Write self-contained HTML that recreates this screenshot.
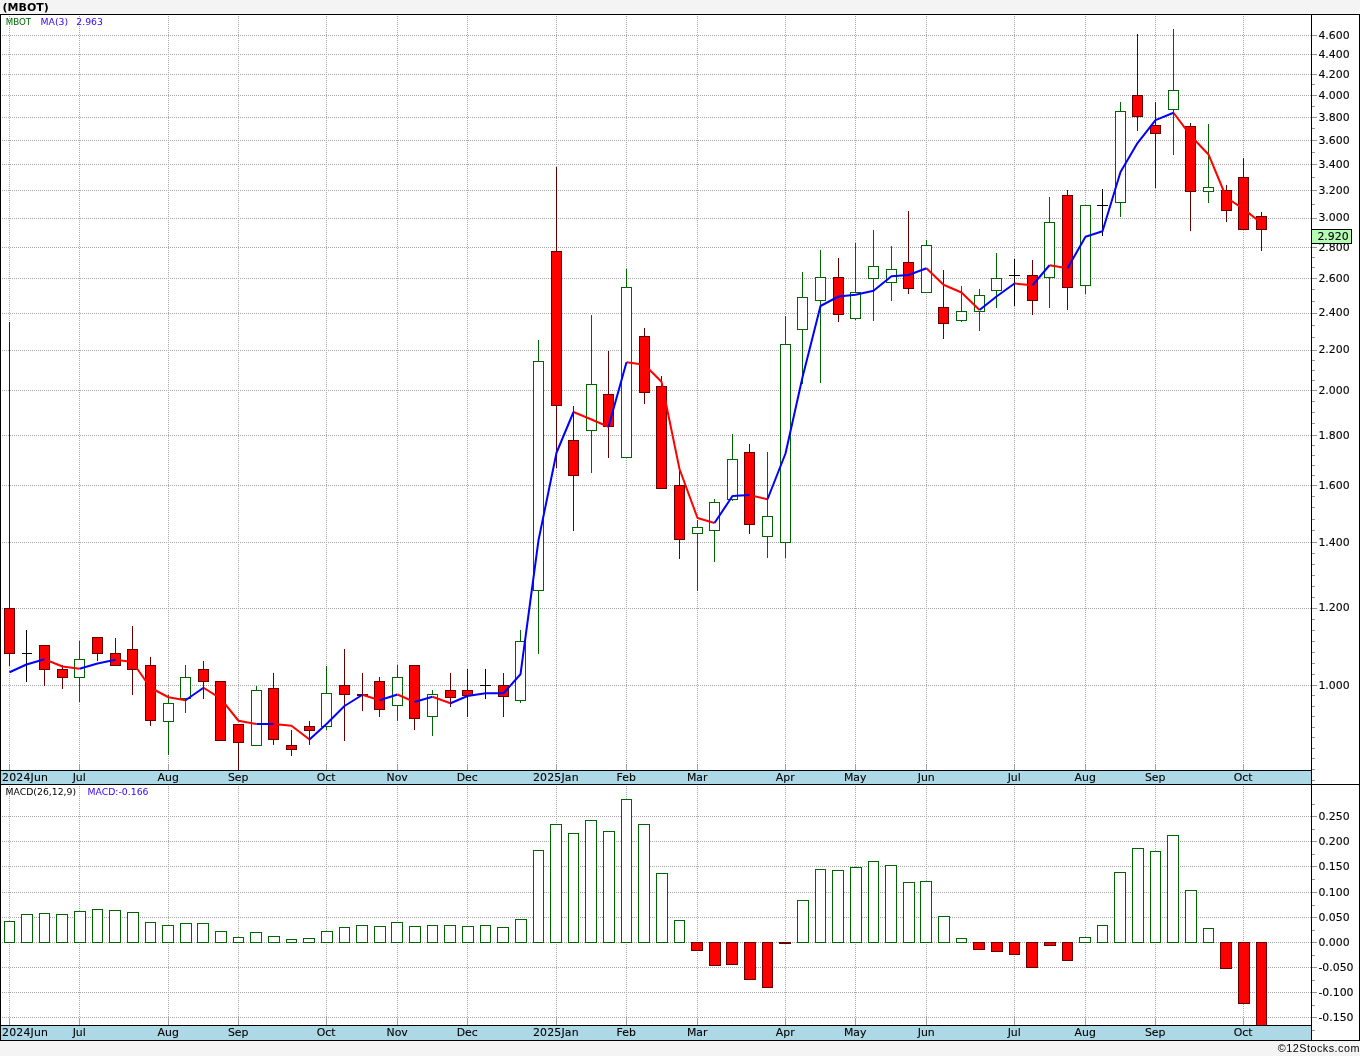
<!DOCTYPE html>
<html><head><meta charset="utf-8"><title>(MBOT)</title>
<style>html,body{margin:0;padding:0;background:#f4f4f4}body{width:1360px;height:1056px;overflow:hidden}</style></head>
<body>
<svg width="1360" height="1056" viewBox="0 0 1360 1056" style="display:block">
<rect x="0" y="0" width="1360" height="1056" fill="#f4f4f4"/>
<rect x="0" y="14" width="1360" height="1027" fill="#ffffff"/>
<path d="M2 35.5H1311M2 54.5H1311M2 74.5H1311M2 95.5H1311M2 117.5H1311M2 140.5H1311M2 164.5H1311M2 190.5H1311M2 218.5H1311M2 247.5H1311M2 278.5H1311M2 313.5H1311M2 350.5H1311M2 390.5H1311M2 435.5H1311M2 485.5H1311M2 542.5H1311M2 608.5H1311M2 685.5H1311M2 816.5H1311M2 841.5H1311M2 866.5H1311M2 892.5H1311M2 917.5H1311M2 942.5H1311M2 967.5H1311M2 992.5H1311M2 1017.5H1311M9.5 16V764M9.5 786V1019M79.5 16V764M79.5 786V1019M168.5 16V764M168.5 786V1019M238.5 16V764M238.5 786V1019M326.5 16V764M326.5 786V1019M397.5 16V764M397.5 786V1019M467.5 16V764M467.5 786V1019M556.5 16V764M556.5 786V1019M626.5 16V764M626.5 786V1019M697.5 16V764M697.5 786V1019M785.5 16V764M785.5 786V1019M855.5 16V764M855.5 786V1019M926.5 16V764M926.5 786V1019M1014.5 16V764M1014.5 786V1019M1085.5 16V764M1085.5 786V1019M1155.5 16V764M1155.5 786V1019M1243.5 16V764M1243.5 786V1019" stroke="#a6a6a6" stroke-width="1" stroke-dasharray="1 1" fill="none" shape-rendering="crispEdges"/>
<path d="M9.5 764V770M9.5 1019V1025M79.5 764V770M79.5 1019V1025M168.5 764V770M168.5 1019V1025M238.5 764V770M238.5 1019V1025M326.5 764V770M326.5 1019V1025M397.5 764V770M397.5 1019V1025M467.5 764V770M467.5 1019V1025M556.5 764V770M556.5 1019V1025M626.5 764V770M626.5 1019V1025M697.5 764V770M697.5 1019V1025M785.5 764V770M785.5 1019V1025M855.5 764V770M855.5 1019V1025M926.5 764V770M926.5 1019V1025M1014.5 764V770M1014.5 1019V1025M1085.5 764V770M1085.5 1019V1025M1155.5 764V770M1155.5 1019V1025M1243.5 764V770M1243.5 1019V1025" stroke="#a0a0a0" stroke-width="1" fill="none" shape-rendering="crispEdges"/>
<g shape-rendering="crispEdges">
<path d="M9.5 322V608M9.5 654V666" stroke="#640000" stroke-width="1" fill="none"/><rect x="4.5" y="608.5" width="10" height="45" fill="#ff0000" stroke="#640000" stroke-width="1"/>
<path d="M26.5 630V682M22.0 653.5H32.0" stroke="#000" stroke-width="1" fill="none"/>
<path d="M44.5 670V686" stroke="#640000" stroke-width="1" fill="none"/><rect x="39.5" y="645.5" width="10" height="24" fill="#ff0000" stroke="#640000" stroke-width="1"/>
<path d="M62.5 665V669M62.5 678V689" stroke="#640000" stroke-width="1" fill="none"/><rect x="57.5" y="669.5" width="10" height="8" fill="#ff0000" stroke="#640000" stroke-width="1"/>
<path d="M79.5 641V659M79.5 678V702" stroke="#006400" stroke-width="1" fill="none"/><rect x="74.5" y="659.5" width="10" height="18" fill="#ffffff" stroke="#006400" stroke-width="1"/>
<path d="M97.5 654V661" stroke="#640000" stroke-width="1" fill="none"/><rect x="92.5" y="637.5" width="10" height="16" fill="#ff0000" stroke="#640000" stroke-width="1"/>
<path d="M115.5 638V653" stroke="#640000" stroke-width="1" fill="none"/><rect x="110.5" y="653.5" width="10" height="12" fill="#ff0000" stroke="#640000" stroke-width="1"/>
<path d="M132.5 626V649M132.5 670V695" stroke="#640000" stroke-width="1" fill="none"/><rect x="127.5" y="649.5" width="10" height="20" fill="#ff0000" stroke="#640000" stroke-width="1"/>
<path d="M150.5 657V665M150.5 721V726" stroke="#640000" stroke-width="1" fill="none"/><rect x="145.5" y="665.5" width="10" height="55" fill="#ff0000" stroke="#640000" stroke-width="1"/>
<path d="M168.5 695V703M168.5 722V755" stroke="#006400" stroke-width="1" fill="none"/><rect x="163.5" y="703.5" width="10" height="18" fill="#ffffff" stroke="#006400" stroke-width="1"/>
<path d="M185.5 665V677M185.5 699V713" stroke="#006400" stroke-width="1" fill="none"/><rect x="180.5" y="677.5" width="10" height="21" fill="#ffffff" stroke="#006400" stroke-width="1"/>
<path d="M203.5 661V669M203.5 682V699" stroke="#640000" stroke-width="1" fill="none"/><rect x="198.5" y="669.5" width="10" height="12" fill="#ff0000" stroke="#640000" stroke-width="1"/>
<rect x="215.5" y="681.5" width="10" height="59" fill="#ff0000" stroke="#640000" stroke-width="1"/>
<path d="M238.5 743V770" stroke="#640000" stroke-width="1" fill="none"/><rect x="233.5" y="724.5" width="10" height="18" fill="#ff0000" stroke="#640000" stroke-width="1"/>
<path d="M256.5 686V690" stroke="#006400" stroke-width="1" fill="none"/><rect x="251.5" y="690.5" width="10" height="55" fill="#ffffff" stroke="#006400" stroke-width="1"/>
<path d="M273.5 673V688M273.5 740V745" stroke="#640000" stroke-width="1" fill="none"/><rect x="268.5" y="688.5" width="10" height="51" fill="#ff0000" stroke="#640000" stroke-width="1"/>
<path d="M291.5 730V745M291.5 750V756" stroke="#640000" stroke-width="1" fill="none"/><rect x="286.5" y="745.5" width="10" height="4" fill="#ff0000" stroke="#640000" stroke-width="1"/>
<path d="M309.5 721V726M309.5 731V745" stroke="#640000" stroke-width="1" fill="none"/><rect x="304.5" y="726.5" width="10" height="4" fill="#ff0000" stroke="#640000" stroke-width="1"/>
<path d="M326.5 666V693M326.5 727V730" stroke="#006400" stroke-width="1" fill="none"/><rect x="321.5" y="693.5" width="10" height="33" fill="#ffffff" stroke="#006400" stroke-width="1"/>
<path d="M344.5 649V685M344.5 695V741" stroke="#640000" stroke-width="1" fill="none"/><rect x="339.5" y="685.5" width="10" height="9" fill="#ff0000" stroke="#640000" stroke-width="1"/>
<path d="M362.5 673V694M362.5 696V711" stroke="#640000" stroke-width="1" fill="none"/><rect x="357.5" y="694.5" width="10" height="1" fill="#ff0000" stroke="#640000" stroke-width="1"/>
<path d="M379.5 677V681M379.5 710V717" stroke="#640000" stroke-width="1" fill="none"/><rect x="374.5" y="681.5" width="10" height="28" fill="#ff0000" stroke="#640000" stroke-width="1"/>
<path d="M397.5 665V677M397.5 706V721" stroke="#006400" stroke-width="1" fill="none"/><rect x="392.5" y="677.5" width="10" height="28" fill="#ffffff" stroke="#006400" stroke-width="1"/>
<path d="M414.5 719V730" stroke="#640000" stroke-width="1" fill="none"/><rect x="409.5" y="665.5" width="10" height="53" fill="#ff0000" stroke="#640000" stroke-width="1"/>
<path d="M432.5 690V694M432.5 717V736" stroke="#006400" stroke-width="1" fill="none"/><rect x="427.5" y="694.5" width="10" height="22" fill="#ffffff" stroke="#006400" stroke-width="1"/>
<path d="M450.5 673V690M450.5 698V707" stroke="#640000" stroke-width="1" fill="none"/><rect x="445.5" y="690.5" width="10" height="7" fill="#ff0000" stroke="#640000" stroke-width="1"/>
<path d="M467.5 669V690M467.5 696V717" stroke="#640000" stroke-width="1" fill="none"/><rect x="462.5" y="690.5" width="10" height="5" fill="#ff0000" stroke="#640000" stroke-width="1"/>
<path d="M485.5 669V699M480.0 685.5H491.0" stroke="#000" stroke-width="1" fill="none"/>
<path d="M503.5 673V685M503.5 697V717" stroke="#640000" stroke-width="1" fill="none"/><rect x="498.5" y="685.5" width="10" height="11" fill="#ff0000" stroke="#640000" stroke-width="1"/>
<path d="M520.5 630V641M520.5 701V703" stroke="#006400" stroke-width="1" fill="none"/><rect x="515.5" y="641.5" width="10" height="59" fill="#ffffff" stroke="#006400" stroke-width="1"/>
<path d="M538.5 340V361M538.5 591V654" stroke="#006400" stroke-width="1" fill="none"/><rect x="533.5" y="361.5" width="10" height="229" fill="#ffffff" stroke="#006400" stroke-width="1"/>
<path d="M556.5 167V251M556.5 406V468" stroke="#640000" stroke-width="1" fill="none"/><rect x="551.5" y="251.5" width="10" height="154" fill="#ff0000" stroke="#640000" stroke-width="1"/>
<path d="M573.5 406V440M573.5 476V531" stroke="#640000" stroke-width="1" fill="none"/><rect x="568.5" y="440.5" width="10" height="35" fill="#ff0000" stroke="#640000" stroke-width="1"/>
<path d="M591.5 315V384M591.5 431V473" stroke="#006400" stroke-width="1" fill="none"/><rect x="586.5" y="384.5" width="10" height="46" fill="#ffffff" stroke="#006400" stroke-width="1"/>
<path d="M608.5 351V394M608.5 427V458" stroke="#640000" stroke-width="1" fill="none"/><rect x="603.5" y="394.5" width="10" height="32" fill="#ff0000" stroke="#640000" stroke-width="1"/>
<path d="M626.5 269V287" stroke="#006400" stroke-width="1" fill="none"/><rect x="621.5" y="287.5" width="10" height="170" fill="#ffffff" stroke="#006400" stroke-width="1"/>
<path d="M644.5 328V336M644.5 393V404" stroke="#640000" stroke-width="1" fill="none"/><rect x="639.5" y="336.5" width="10" height="56" fill="#ff0000" stroke="#640000" stroke-width="1"/>
<path d="M661.5 376V386" stroke="#640000" stroke-width="1" fill="none"/><rect x="656.5" y="386.5" width="10" height="102" fill="#ff0000" stroke="#640000" stroke-width="1"/>
<path d="M679.5 470V485M679.5 540V559" stroke="#640000" stroke-width="1" fill="none"/><rect x="674.5" y="485.5" width="10" height="54" fill="#ff0000" stroke="#640000" stroke-width="1"/>
<path d="M697.5 520V527M697.5 534V591" stroke="#006400" stroke-width="1" fill="none"/><rect x="692.5" y="527.5" width="10" height="6" fill="#ffffff" stroke="#006400" stroke-width="1"/>
<path d="M714.5 499V502M714.5 531V562" stroke="#006400" stroke-width="1" fill="none"/><rect x="709.5" y="502.5" width="10" height="28" fill="#ffffff" stroke="#006400" stroke-width="1"/>
<path d="M732.5 434V459M732.5 500V501" stroke="#006400" stroke-width="1" fill="none"/><rect x="727.5" y="459.5" width="10" height="40" fill="#ffffff" stroke="#006400" stroke-width="1"/>
<path d="M749.5 444V452M749.5 525V534" stroke="#640000" stroke-width="1" fill="none"/><rect x="744.5" y="452.5" width="10" height="72" fill="#ff0000" stroke="#640000" stroke-width="1"/>
<path d="M767.5 452V516M767.5 537V558" stroke="#006400" stroke-width="1" fill="none"/><rect x="762.5" y="516.5" width="10" height="20" fill="#ffffff" stroke="#006400" stroke-width="1"/>
<path d="M785.5 316V344M785.5 543V558" stroke="#006400" stroke-width="1" fill="none"/><rect x="780.5" y="344.5" width="10" height="198" fill="#ffffff" stroke="#006400" stroke-width="1"/>
<path d="M802.5 272V297M802.5 330V384" stroke="#006400" stroke-width="1" fill="none"/><rect x="797.5" y="297.5" width="10" height="32" fill="#ffffff" stroke="#006400" stroke-width="1"/>
<path d="M820.5 250V277M820.5 301V383" stroke="#006400" stroke-width="1" fill="none"/><rect x="815.5" y="277.5" width="10" height="23" fill="#ffffff" stroke="#006400" stroke-width="1"/>
<path d="M838.5 258V277M838.5 315V322" stroke="#640000" stroke-width="1" fill="none"/><rect x="833.5" y="277.5" width="10" height="37" fill="#ff0000" stroke="#640000" stroke-width="1"/>
<path d="M855.5 243V292M855.5 319V320" stroke="#006400" stroke-width="1" fill="none"/><rect x="850.5" y="292.5" width="10" height="26" fill="#ffffff" stroke="#006400" stroke-width="1"/>
<path d="M873.5 230V266M873.5 279V321" stroke="#006400" stroke-width="1" fill="none"/><rect x="868.5" y="266.5" width="10" height="12" fill="#ffffff" stroke="#006400" stroke-width="1"/>
<path d="M891.5 246V269M891.5 283V301" stroke="#006400" stroke-width="1" fill="none"/><rect x="886.5" y="269.5" width="10" height="13" fill="#ffffff" stroke="#006400" stroke-width="1"/>
<path d="M908.5 211V262M908.5 289V294" stroke="#640000" stroke-width="1" fill="none"/><rect x="903.5" y="262.5" width="10" height="26" fill="#ff0000" stroke="#640000" stroke-width="1"/>
<path d="M926.5 240V245" stroke="#006400" stroke-width="1" fill="none"/><rect x="921.5" y="245.5" width="10" height="47" fill="#ffffff" stroke="#006400" stroke-width="1"/>
<path d="M943.5 270V307M943.5 324V339" stroke="#640000" stroke-width="1" fill="none"/><rect x="938.5" y="307.5" width="10" height="16" fill="#ff0000" stroke="#640000" stroke-width="1"/>
<path d="M961.5 286V311M961.5 321V322" stroke="#006400" stroke-width="1" fill="none"/><rect x="956.5" y="311.5" width="10" height="9" fill="#ffffff" stroke="#006400" stroke-width="1"/>
<path d="M979.5 289V295M979.5 312V331" stroke="#006400" stroke-width="1" fill="none"/><rect x="974.5" y="295.5" width="10" height="16" fill="#ffffff" stroke="#006400" stroke-width="1"/>
<path d="M996.5 253V278M996.5 291V308" stroke="#006400" stroke-width="1" fill="none"/><rect x="991.5" y="278.5" width="10" height="12" fill="#ffffff" stroke="#006400" stroke-width="1"/>
<path d="M1014.5 259V306M1009.0 275.5H1020.0" stroke="#000" stroke-width="1" fill="none"/>
<path d="M1032.5 260V275M1032.5 301V315" stroke="#640000" stroke-width="1" fill="none"/><rect x="1027.5" y="275.5" width="10" height="25" fill="#ff0000" stroke="#640000" stroke-width="1"/>
<path d="M1049.5 197V222M1049.5 278V308" stroke="#006400" stroke-width="1" fill="none"/><rect x="1044.5" y="222.5" width="10" height="55" fill="#ffffff" stroke="#006400" stroke-width="1"/>
<path d="M1067.5 190V195M1067.5 288V310" stroke="#640000" stroke-width="1" fill="none"/><rect x="1062.5" y="195.5" width="10" height="92" fill="#ff0000" stroke="#640000" stroke-width="1"/>
<path d="M1085.5 286V294" stroke="#006400" stroke-width="1" fill="none"/><rect x="1080.5" y="205.5" width="10" height="80" fill="#ffffff" stroke="#006400" stroke-width="1"/>
<path d="M1102.5 189V236M1097.0 205.5H1108.0" stroke="#000" stroke-width="1" fill="none"/>
<path d="M1120.5 102V111M1120.5 203V217" stroke="#006400" stroke-width="1" fill="none"/><rect x="1115.5" y="111.5" width="10" height="91" fill="#ffffff" stroke="#006400" stroke-width="1"/>
<path d="M1137.5 34V95M1137.5 117V131" stroke="#640000" stroke-width="1" fill="none"/><rect x="1132.5" y="95.5" width="10" height="21" fill="#ff0000" stroke="#640000" stroke-width="1"/>
<path d="M1155.5 102V125M1155.5 134V188" stroke="#640000" stroke-width="1" fill="none"/><rect x="1150.5" y="125.5" width="10" height="8" fill="#ff0000" stroke="#640000" stroke-width="1"/>
<path d="M1173.5 29V90M1173.5 110V155" stroke="#006400" stroke-width="1" fill="none"/><rect x="1168.5" y="90.5" width="10" height="19" fill="#ffffff" stroke="#006400" stroke-width="1"/>
<path d="M1190.5 123V126M1190.5 192V231" stroke="#640000" stroke-width="1" fill="none"/><rect x="1185.5" y="126.5" width="10" height="65" fill="#ff0000" stroke="#640000" stroke-width="1"/>
<path d="M1208.5 124V187M1208.5 192V203" stroke="#006400" stroke-width="1" fill="none"/><rect x="1203.5" y="187.5" width="10" height="4" fill="#ffffff" stroke="#006400" stroke-width="1"/>
<path d="M1226.5 185V190M1226.5 211V222" stroke="#640000" stroke-width="1" fill="none"/><rect x="1221.5" y="190.5" width="10" height="20" fill="#ff0000" stroke="#640000" stroke-width="1"/>
<path d="M1243.5 158V177" stroke="#640000" stroke-width="1" fill="none"/><rect x="1238.5" y="177.5" width="10" height="52" fill="#ff0000" stroke="#640000" stroke-width="1"/>
<path d="M1261.5 212V216M1261.5 230V251" stroke="#640000" stroke-width="1" fill="none"/><rect x="1256.5" y="216.5" width="10" height="13" fill="#ff0000" stroke="#640000" stroke-width="1"/>
</g>
<g stroke-width="2" fill="none" stroke-linecap="butt" stroke-linejoin="round">
<path d="M44.5 659.25L62.5 666.50L79.5 668.75" stroke="#ff0000"/>
<path d="M115.5 659.75L132.5 662.00L150.5 687.75L168.5 697.25L185.5 700.25" stroke="#ff0000"/>
<path d="M203.5 687.75L220.5 698.45L238.5 720.75L256.5 724.00" stroke="#ff0000"/>
<path d="M273.5 724.00L291.5 725.75L309.5 739.50" stroke="#ff0000"/>
<path d="M362.5 694.75L379.5 700.25" stroke="#ff0000"/>
<path d="M397.5 694.50L414.5 702.00" stroke="#ff0000"/>
<path d="M432.5 696.75L450.5 703.25" stroke="#ff0000"/>
<path d="M573.5 412.00L591.5 419.50L608.5 426.75" stroke="#ff0000"/>
<path d="M626.5 362.25L644.5 364.75L661.5 381.75L679.5 469.00L697.5 518.00L714.5 523.00" stroke="#ff0000"/>
<path d="M749.5 495.00L767.5 499.25" stroke="#ff0000"/>
<path d="M926.5 268.25L943.5 284.75L961.5 292.50L979.5 310.00" stroke="#ff0000"/>
<path d="M1014.5 283.50L1032.5 285.25" stroke="#ff0000"/>
<path d="M1049.5 265.25L1067.5 268.25" stroke="#ff0000"/>
<path d="M1173.5 112.75L1190.5 135.45L1208.5 154.45L1226.5 197.75L1243.5 208.85L1261.5 223.25" stroke="#ff0000"/>
<path d="M9.5 672.25L26.5 664.50L44.5 659.25" stroke="#0000ff"/>
<path d="M79.5 668.75L97.5 663.50L115.5 659.75" stroke="#0000ff"/>
<path d="M185.5 700.25L203.5 687.75" stroke="#0000ff"/>
<path d="M256.5 724.00L273.5 724.00" stroke="#0000ff"/>
<path d="M309.5 739.50L326.5 724.00L344.5 706.00L362.5 694.75" stroke="#0000ff"/>
<path d="M379.5 700.25L397.5 694.50" stroke="#0000ff"/>
<path d="M414.5 702.00L432.5 696.75" stroke="#0000ff"/>
<path d="M450.5 703.25L467.5 696.00L485.5 693.25L503.5 693.25L520.5 674.25L538.5 540.25L556.5 452.75L573.5 412.00" stroke="#0000ff"/>
<path d="M608.5 426.75L626.5 362.25" stroke="#0000ff"/>
<path d="M714.5 523.00L732.5 496.00L749.5 495.00" stroke="#0000ff"/>
<path d="M767.5 499.25L785.5 453.50L802.5 377.25L820.5 306.00L838.5 296.50L855.5 294.75L873.5 290.75L891.5 276.25L908.5 275.00L926.5 268.25" stroke="#0000ff"/>
<path d="M979.5 310.00L996.5 296.50L1014.5 283.50" stroke="#0000ff"/>
<path d="M1032.5 285.25L1049.5 265.25" stroke="#0000ff"/>
<path d="M1067.5 268.25L1085.5 236.75L1102.5 231.25L1120.5 171.95L1137.5 143.05L1155.5 120.15L1173.5 112.75" stroke="#0000ff"/>
</g>
<g shape-rendering="crispEdges">
<rect x="4.5" y="921.5" width="10" height="21" fill="#ffffff" stroke="#006400" stroke-width="1"/>
<rect x="21.5" y="914.5" width="11" height="28" fill="#ffffff" stroke="#006400" stroke-width="1"/>
<rect x="39.5" y="913.5" width="10" height="29" fill="#ffffff" stroke="#006400" stroke-width="1"/>
<rect x="56.5" y="914.5" width="11" height="28" fill="#ffffff" stroke="#006400" stroke-width="1"/>
<rect x="74.5" y="911.5" width="11" height="31" fill="#ffffff" stroke="#006400" stroke-width="1"/>
<rect x="92.5" y="909.5" width="10" height="33" fill="#ffffff" stroke="#006400" stroke-width="1"/>
<rect x="109.5" y="910.5" width="11" height="32" fill="#ffffff" stroke="#006400" stroke-width="1"/>
<rect x="127.5" y="912.5" width="11" height="30" fill="#ffffff" stroke="#006400" stroke-width="1"/>
<rect x="145.5" y="922.5" width="10" height="20" fill="#ffffff" stroke="#006400" stroke-width="1"/>
<rect x="162.5" y="925.5" width="11" height="17" fill="#ffffff" stroke="#006400" stroke-width="1"/>
<rect x="180.5" y="923.5" width="11" height="19" fill="#ffffff" stroke="#006400" stroke-width="1"/>
<rect x="197.5" y="923.5" width="11" height="19" fill="#ffffff" stroke="#006400" stroke-width="1"/>
<rect x="215.5" y="931.5" width="11" height="11" fill="#ffffff" stroke="#006400" stroke-width="1"/>
<rect x="233.5" y="937.5" width="10" height="5" fill="#ffffff" stroke="#006400" stroke-width="1"/>
<rect x="250.5" y="932.5" width="11" height="10" fill="#ffffff" stroke="#006400" stroke-width="1"/>
<rect x="268.5" y="936.5" width="11" height="6" fill="#ffffff" stroke="#006400" stroke-width="1"/>
<rect x="286.5" y="939.5" width="10" height="3" fill="#ffffff" stroke="#006400" stroke-width="1"/>
<rect x="303.5" y="938.5" width="11" height="4" fill="#ffffff" stroke="#006400" stroke-width="1"/>
<rect x="321.5" y="931.5" width="11" height="11" fill="#ffffff" stroke="#006400" stroke-width="1"/>
<rect x="339.5" y="927.5" width="10" height="15" fill="#ffffff" stroke="#006400" stroke-width="1"/>
<rect x="356.5" y="925.5" width="11" height="17" fill="#ffffff" stroke="#006400" stroke-width="1"/>
<rect x="374.5" y="926.5" width="11" height="16" fill="#ffffff" stroke="#006400" stroke-width="1"/>
<rect x="391.5" y="922.5" width="11" height="20" fill="#ffffff" stroke="#006400" stroke-width="1"/>
<rect x="409.5" y="926.5" width="11" height="16" fill="#ffffff" stroke="#006400" stroke-width="1"/>
<rect x="427.5" y="925.5" width="10" height="17" fill="#ffffff" stroke="#006400" stroke-width="1"/>
<rect x="444.5" y="925.5" width="11" height="17" fill="#ffffff" stroke="#006400" stroke-width="1"/>
<rect x="462.5" y="926.5" width="11" height="16" fill="#ffffff" stroke="#006400" stroke-width="1"/>
<rect x="480.5" y="925.5" width="10" height="17" fill="#ffffff" stroke="#006400" stroke-width="1"/>
<rect x="497.5" y="927.5" width="11" height="15" fill="#ffffff" stroke="#006400" stroke-width="1"/>
<rect x="515.5" y="919.5" width="11" height="23" fill="#ffffff" stroke="#006400" stroke-width="1"/>
<rect x="533.5" y="850.5" width="10" height="92" fill="#ffffff" stroke="#006400" stroke-width="1"/>
<rect x="550.5" y="824.5" width="11" height="118" fill="#ffffff" stroke="#006400" stroke-width="1"/>
<rect x="568.5" y="833.5" width="10" height="109" fill="#ffffff" stroke="#006400" stroke-width="1"/>
<rect x="585.5" y="820.5" width="11" height="122" fill="#ffffff" stroke="#006400" stroke-width="1"/>
<rect x="603.5" y="831.5" width="11" height="111" fill="#ffffff" stroke="#006400" stroke-width="1"/>
<rect x="621.5" y="799.5" width="10" height="143" fill="#ffffff" stroke="#006400" stroke-width="1"/>
<rect x="638.5" y="824.5" width="11" height="118" fill="#ffffff" stroke="#006400" stroke-width="1"/>
<rect x="656.5" y="873.5" width="11" height="69" fill="#ffffff" stroke="#006400" stroke-width="1"/>
<rect x="674.5" y="920.5" width="10" height="22" fill="#ffffff" stroke="#006400" stroke-width="1"/>
<rect x="691.5" y="942.5" width="11" height="8" fill="#ff0000" stroke="#640000" stroke-width="1"/>
<rect x="709.5" y="942.5" width="11" height="23" fill="#ff0000" stroke="#640000" stroke-width="1"/>
<rect x="726.5" y="942.5" width="11" height="22" fill="#ff0000" stroke="#640000" stroke-width="1"/>
<rect x="744.5" y="942.5" width="11" height="37" fill="#ff0000" stroke="#640000" stroke-width="1"/>
<rect x="762.5" y="942.5" width="10" height="45" fill="#ff0000" stroke="#640000" stroke-width="1"/>
<rect x="779.5" y="942.5" width="11" height="1" fill="#ff0000" stroke="#640000" stroke-width="1"/>
<rect x="797.5" y="900.5" width="11" height="42" fill="#ffffff" stroke="#006400" stroke-width="1"/>
<rect x="815.5" y="869.5" width="10" height="73" fill="#ffffff" stroke="#006400" stroke-width="1"/>
<rect x="832.5" y="870.5" width="11" height="72" fill="#ffffff" stroke="#006400" stroke-width="1"/>
<rect x="850.5" y="867.5" width="11" height="75" fill="#ffffff" stroke="#006400" stroke-width="1"/>
<rect x="868.5" y="861.5" width="10" height="81" fill="#ffffff" stroke="#006400" stroke-width="1"/>
<rect x="885.5" y="865.5" width="11" height="77" fill="#ffffff" stroke="#006400" stroke-width="1"/>
<rect x="903.5" y="882.5" width="11" height="60" fill="#ffffff" stroke="#006400" stroke-width="1"/>
<rect x="920.5" y="881.5" width="11" height="61" fill="#ffffff" stroke="#006400" stroke-width="1"/>
<rect x="938.5" y="916.5" width="11" height="26" fill="#ffffff" stroke="#006400" stroke-width="1"/>
<rect x="956.5" y="938.5" width="10" height="4" fill="#ffffff" stroke="#006400" stroke-width="1"/>
<rect x="973.5" y="942.5" width="11" height="7" fill="#ff0000" stroke="#640000" stroke-width="1"/>
<rect x="991.5" y="942.5" width="11" height="9" fill="#ff0000" stroke="#640000" stroke-width="1"/>
<rect x="1009.5" y="942.5" width="10" height="12" fill="#ff0000" stroke="#640000" stroke-width="1"/>
<rect x="1026.5" y="942.5" width="11" height="25" fill="#ff0000" stroke="#640000" stroke-width="1"/>
<rect x="1044.5" y="942.5" width="11" height="3" fill="#ff0000" stroke="#640000" stroke-width="1"/>
<rect x="1062.5" y="942.5" width="10" height="18" fill="#ff0000" stroke="#640000" stroke-width="1"/>
<rect x="1079.5" y="937.5" width="11" height="5" fill="#ffffff" stroke="#006400" stroke-width="1"/>
<rect x="1097.5" y="925.5" width="10" height="17" fill="#ffffff" stroke="#006400" stroke-width="1"/>
<rect x="1114.5" y="872.5" width="11" height="70" fill="#ffffff" stroke="#006400" stroke-width="1"/>
<rect x="1132.5" y="848.5" width="11" height="94" fill="#ffffff" stroke="#006400" stroke-width="1"/>
<rect x="1150.5" y="851.5" width="10" height="91" fill="#ffffff" stroke="#006400" stroke-width="1"/>
<rect x="1167.5" y="835.5" width="11" height="107" fill="#ffffff" stroke="#006400" stroke-width="1"/>
<rect x="1185.5" y="890.5" width="11" height="52" fill="#ffffff" stroke="#006400" stroke-width="1"/>
<rect x="1203.5" y="928.5" width="10" height="14" fill="#ffffff" stroke="#006400" stroke-width="1"/>
<rect x="1220.5" y="942.5" width="11" height="26" fill="#ff0000" stroke="#640000" stroke-width="1"/>
<rect x="1238.5" y="942.5" width="11" height="61" fill="#ff0000" stroke="#640000" stroke-width="1"/>
<rect x="1256.5" y="942.5" width="10" height="83" fill="#ff0000" stroke="#640000" stroke-width="1"/>
</g>
<g shape-rendering="crispEdges">
<rect x="1" y="770" width="1310" height="15" fill="#add8e6"/>
<rect x="1" y="1025" width="1310" height="16" fill="#add8e6"/>
<path d="M0 14.5H1360M0 770.5H1311M0 784.5H1360M0 1025.5H1311M0 1040.5H1360M0.5 14V1041M1311.5 14V1041M1359.5 14V1041" stroke="#000" stroke-width="1" fill="none"/>
<path d="M1312 35.5H1317M1312 54.5H1317M1312 74.5H1317M1312 95.5H1317M1312 117.5H1317M1312 140.5H1317M1312 164.5H1317M1312 190.5H1317M1312 218.5H1317M1312 247.5H1317M1312 278.5H1317M1312 313.5H1317M1312 350.5H1317M1312 390.5H1317M1312 435.5H1317M1312 485.5H1317M1312 542.5H1317M1312 608.5H1317M1312 685.5H1317M1312 84.5H1315M1312 106.5H1315M1312 128.5H1315M1312 152.5H1315M1312 177.5H1315M1312 204.5H1315M1312 232.5H1315M1312 257.5H1315M1312 267.5H1315M1312 289.5H1315M1312 301.5H1315M1312 325.5H1315M1312 337.5H1315M1312 360.5H1315M1312 370.5H1315M1312 380.5H1315M1312 401.5H1315M1312 412.5H1315M1312 423.5H1315M1312 445.5H1315M1312 455.5H1315M1312 465.5H1315M1312 475.5H1315M1312 496.5H1315M1312 507.5H1315M1312 519.5H1315M1312 530.5H1315M1312 553.5H1315M1312 564.5H1315M1312 575.5H1315M1312 586.5H1315M1312 597.5H1315M1312 619.5H1315M1312 630.5H1315M1312 641.5H1315M1312 652.5H1315M1312 663.5H1315M1312 674.5H1315M1312 695.5H1315M1312 706.5H1315M1312 716.5H1315M1312 727.5H1315M1312 737.5H1315M1312 748.5H1315M1312 758.5H1315M1312 769.5H1315M1312 780.5H1315M1312 816.5H1317M1312 841.5H1317M1312 866.5H1317M1312 892.5H1317M1312 917.5H1317M1312 942.5H1317M1312 967.5H1317M1312 992.5H1317M1312 1017.5H1317M1312 829.5H1315M1312 854.5H1315M1312 879.5H1315M1312 905.5H1315M1312 930.5H1315M1312 955.5H1315M1312 980.5H1315M1312 1005.5H1315M1312 804.5H1315M1312 1030.5H1315" stroke="#969696" stroke-width="1" fill="none"/>
<rect x="1311.5" y="229.5" width="40" height="14" fill="#b4fbb4" stroke="#000" stroke-width="1"/>
</g>
<g font-family="DejaVu Sans, Verdana, Liberation Sans, sans-serif" font-size="10.9px" fill="#000" stroke="#000" stroke-width="0.1">
<text x="1318.4" y="39">4.600</text>
<text x="1318.4" y="58">4.400</text>
<text x="1318.4" y="78">4.200</text>
<text x="1318.4" y="99">4.000</text>
<text x="1318.4" y="121">3.800</text>
<text x="1318.4" y="144">3.600</text>
<text x="1318.4" y="168">3.400</text>
<text x="1318.4" y="194">3.200</text>
<text x="1318.4" y="221">3.000</text>
<text x="1318.4" y="251">2.800</text>
<text x="1318.4" y="282">2.600</text>
<text x="1318.4" y="316">2.400</text>
<text x="1318.4" y="353">2.200</text>
<text x="1318.4" y="394">2.000</text>
<text x="1318.4" y="439">1.800</text>
<text x="1318.4" y="489">1.600</text>
<text x="1318.4" y="546">1.400</text>
<text x="1318.4" y="611">1.200</text>
<text x="1318.4" y="689">1.000</text>
<text x="1318.4" y="820">0.250</text>
<text x="1318.4" y="845">0.200</text>
<text x="1318.4" y="870">0.150</text>
<text x="1318.4" y="896">0.100</text>
<text x="1318.4" y="921">0.050</text>
<text x="1318.4" y="946">0.000</text>
<text x="1318.4" y="971">-0.050</text>
<text x="1318.4" y="996">-0.100</text>
<text x="1318.4" y="1021">-0.150</text>
<text x="1317.4" y="240">2.920</text>
<text x="2" y="780.8" textLength="46" lengthAdjust="spacing">2024Jun</text>
<text x="2" y="1035.8" textLength="46" lengthAdjust="spacing">2024Jun</text>
<text x="79.2" y="780.8" text-anchor="middle">Jul</text>
<text x="79.2" y="1035.8" text-anchor="middle">Jul</text>
<text x="168.2" y="780.8" text-anchor="middle">Aug</text>
<text x="168.2" y="1035.8" text-anchor="middle">Aug</text>
<text x="238.2" y="780.8" text-anchor="middle">Sep</text>
<text x="238.2" y="1035.8" text-anchor="middle">Sep</text>
<text x="326.2" y="780.8" text-anchor="middle">Oct</text>
<text x="326.2" y="1035.8" text-anchor="middle">Oct</text>
<text x="397.2" y="780.8" text-anchor="middle">Nov</text>
<text x="397.2" y="1035.8" text-anchor="middle">Nov</text>
<text x="467.2" y="780.8" text-anchor="middle">Dec</text>
<text x="467.2" y="1035.8" text-anchor="middle">Dec</text>
<text x="533.0" y="780.8" textLength="45.6" lengthAdjust="spacing">2025Jan</text>
<text x="533.0" y="1035.8" textLength="45.6" lengthAdjust="spacing">2025Jan</text>
<text x="626.2" y="780.8" text-anchor="middle">Feb</text>
<text x="626.2" y="1035.8" text-anchor="middle">Feb</text>
<text x="697.2" y="780.8" text-anchor="middle">Mar</text>
<text x="697.2" y="1035.8" text-anchor="middle">Mar</text>
<text x="785.2" y="780.8" text-anchor="middle">Apr</text>
<text x="785.2" y="1035.8" text-anchor="middle">Apr</text>
<text x="855.2" y="780.8" text-anchor="middle">May</text>
<text x="855.2" y="1035.8" text-anchor="middle">May</text>
<text x="926.2" y="780.8" text-anchor="middle">Jun</text>
<text x="926.2" y="1035.8" text-anchor="middle">Jun</text>
<text x="1014.2" y="780.8" text-anchor="middle">Jul</text>
<text x="1014.2" y="1035.8" text-anchor="middle">Jul</text>
<text x="1085.2" y="780.8" text-anchor="middle">Aug</text>
<text x="1085.2" y="1035.8" text-anchor="middle">Aug</text>
<text x="1155.2" y="780.8" text-anchor="middle">Sep</text>
<text x="1155.2" y="1035.8" text-anchor="middle">Sep</text>
<text x="1243.2" y="780.8" text-anchor="middle">Oct</text>
<text x="1243.2" y="1035.8" text-anchor="middle">Oct</text>
</g>
<text x="2.6" y="10.9" font-family="DejaVu Sans, Verdana, Liberation Sans, sans-serif" font-weight="bold" font-size="11px" fill="#000">(MBOT)</text>
<g font-family="DejaVu Sans, Verdana, Liberation Sans, sans-serif" font-size="9.3px">
<text x="5.7" y="24.9" fill="#006400" textLength="25.4" lengthAdjust="spacingAndGlyphs">MBOT</text>
<text x="40.5" y="24.9" fill="#3300ff">MA(3)</text>
<text x="76.3" y="24.9" fill="#3300ff">2.963</text>
<text x="5.5" y="794.7" fill="#000000">MACD(26,12,9)</text>
<text x="87.5" y="794.7" fill="#3300ff">MACD:-0.166</text>
</g>
<text x="1360" y="1051.6" text-anchor="end" font-family="Liberation Sans, Arial, sans-serif" font-size="10.8px" letter-spacing="0.5" fill="#000">©12Stocks.com</text>
</svg>
</body></html>
